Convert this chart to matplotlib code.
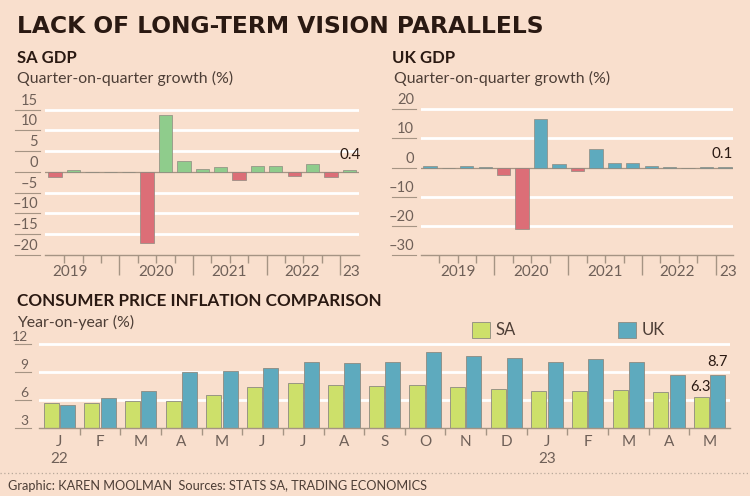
import matplotlib
matplotlib.use('Agg')
import matplotlib.pyplot as plt
from matplotlib.patches import Rectangle
from matplotlib.lines import Line2D
import matplotlib.transforms as mtrans

# ---------------- data ----------------
quarters = ['2019Q1', '2019Q2', '2019Q3', '2019Q4', '2020Q1', '2020Q2', '2020Q3', '2020Q4',
            '2021Q1', '2021Q2', '2021Q3', '2021Q4', '2022Q1', '2022Q2', '2022Q3', '2022Q4', '2023Q1']
sa_gdp = [-1.1, 0.5, -0.05, -0.1, 0.1, -17.0, 13.7, 2.6, 0.6, 1.3, -1.9, 1.4, 1.4, -0.9, 1.8, -1.2, 0.4]
uk_gdp = [0.6, -0.1, 0.6, 0.05, -2.7, -21.0, 16.7, 1.3, -1.2, 6.5, 1.7, 1.6, 0.5, 0.1, -0.1, 0.1, 0.1]
year_labels = ['2019', '2020', '2021', '2022', '23']
gdp_ticks_sa = [15, 10, 5, 0, -5, -10, -15, -20]
gdp_ticks_uk = [20, 10, 0, -10, -20, -30]

months = ['J', 'F', 'M', 'A', 'M', 'J', 'J', 'A', 'S', 'O', 'N', 'D', 'J', 'F', 'M', 'A', 'M']
sa_cpi = [5.7, 5.7, 5.9, 5.9, 6.5, 7.4, 7.8, 7.6, 7.5, 7.6, 7.4, 7.2, 6.9, 7.0, 7.1, 6.8, 6.3]
uk_cpi = [5.5, 6.2, 7.0, 9.0, 9.1, 9.4, 10.1, 9.9, 10.1, 11.1, 10.7, 10.5, 10.1, 10.4, 10.1, 8.7, 8.7]
cpi_ticks = [12, 9, 6, 3]

# ---------------- style ----------------
W, H = 750, 496
BG = '#f9dfcd'
TXT = '#2a1912'
SUB = '#4d3e36'
TICK = '#6f6058'
AXC = '#a59484'
GREEN = '#8fcc8c'
RED = '#dc6e77'
BLUE = '#5eaabe'
LIME = '#cde06a'
EDGE = '#8d8a80'
FONT = 'Lato'

plt.rcParams['font.family'] = [FONT, 'DejaVu Sans']

fig = plt.figure(figsize=(W / 100, H / 100), dpi=100)
fig.patch.set_facecolor(BG)


def px_axes(x0, y0, x1, y1):
    ax = fig.add_axes([x0 / W, 1 - y1 / H, (x1 - x0) / W, (y1 - y0) / H])
    ax.set_facecolor(BG)
    for s in ['top', 'right', 'left']:
        ax.spines[s].set_visible(False)
    ax.spines['bottom'].set_color(AXC)
    ax.spines['bottom'].set_linewidth(1.0)
    ax.set_yticks([])
    return ax


def y_labels(ax, vals, x_right_px, ul_left_px, ax_x0, ax_x1, grid_skip, zero_gray=None,
             fs=10.5, dy=1.5):
    wpx = ax_x1 - ax_x0
    trans = mtrans.blended_transform_factory(ax.transAxes, ax.transData)
    xr = (x_right_px - ax_x0) / wpx
    xl = (ul_left_px - ax_x0) / wpx
    off = mtrans.offset_copy(trans, fig=fig, x=0, y=dy, units='points')
    for v in vals:
        lab = str(v).replace('-', '\u2013')
        ax.text(xr, v, lab, transform=off, ha='right', va='bottom',
                fontsize=fs, color=TICK)
        ax.add_line(Line2D([xl, xr + 0.005], [v, v], transform=trans, clip_on=False,
                           color=AXC, lw=0.8))
        if v == zero_gray:
            ax.axhline(v, color=AXC, lw=0.9, zorder=1)
        elif v != grid_skip:
            ax.axhline(v, color='white', lw=2.0, zorder=0)


def quarter_axis(ax, year_pos):
    n = len(quarters)
    minor = [k + 0.5 for k in range(n - 1) if (k + 1) % 4 != 0]
    major = [k + 0.5 for k in range(n - 1) if (k + 1) % 4 == 0]
    ax.set_xticks(major)
    ax.set_xticks(minor, minor=True)
    ax.tick_params(axis='x', which='major', length=14.5, width=1.0, color=AXC, labelbottom=False)
    ax.tick_params(axis='x', which='minor', length=5.5, width=1.0, color=AXC, labelbottom=False)
    tr = mtrans.blended_transform_factory(ax.transData, ax.transAxes)
    tr = mtrans.offset_copy(tr, fig=fig, x=0, y=-12, units='points')
    for lab, p in zip(year_labels, year_pos):
        ax.text(p, 0, lab, transform=tr, ha='center', va='center', fontsize=11, color=TICK)


# ---------------- titles ----------------
fig.text(17 / W, 1 - 33 / H, 'LACK OF LONG-TERM VISION PARALLELS', fontsize=16.8,
         fontweight='bold', family=['DejaVu Sans'], color=TXT, va='baseline')
fig.text(17 / W, 1 - 63 / H, 'SA GDP', fontsize=12, fontweight='bold', color=TXT, va='baseline')
fig.text(17 / W, 1 - 83 / H, 'Quarter-on-quarter growth (%)', fontsize=11.4, color=SUB, va='baseline')
fig.text(392 / W, 1 - 63 / H, 'UK GDP', fontsize=12, fontweight='bold', color=TXT, va='baseline')
fig.text(394 / W, 1 - 83 / H, 'Quarter-on-quarter growth (%)', fontsize=11.4, color=SUB, va='baseline')
fig.text(17 / W, 1 - 306 / H, 'CONSUMER PRICE INFLATION COMPARISON', fontsize=12.3,
         fontweight='bold', color=TXT, va='baseline')
fig.text(17 / W, 1 - 327 / H, 'Year-on-year (%)', fontsize=11.4, color=SUB, va='baseline')

# ---------------- SA GDP ----------------
x = list(range(len(quarters)))
ax1 = px_axes(45, 107.6, 359, 255)
ax1.set_xlim(-0.55, 16.52)
ax1.set_ylim(-20, 15.5)
ax1.bar(x, sa_gdp, width=0.72, color=[GREEN if v >= 0 else RED for v in sa_gdp],
        edgecolor=EDGE, linewidth=0.5, zorder=2)
y_labels(ax1, gdp_ticks_sa, 38, 15, 45, 359, grid_skip=-20, zero_gray=0)
quarter_axis(ax1, [0.8, 5.5, 9.45, 13.45, 16.1])
ax1.annotate(f'{sa_gdp[-1]:.1f}', xy=(x[-1], sa_gdp[-1]), xytext=(8, 11), textcoords='offset points',
             ha='right', va='center', fontsize=11, color=TXT)

# ---------------- UK GDP ----------------
ax2 = px_axes(420.7, 106.4, 732.7, 255)
ax2.set_xlim(-0.5, 16.42)
ax2.set_ylim(-30, 21)
ax2.bar(x, uk_gdp, width=0.72, color=[BLUE if v >= 0 else RED for v in uk_gdp],
        edgecolor=EDGE, linewidth=0.5, zorder=2)
y_labels(ax2, gdp_ticks_uk, 414, 392, 420.7, 732.7, grid_skip=-30, zero_gray=0)
quarter_axis(ax2, [1.5, 5.5, 9.5, 13.4, 16.2])
ax2.annotate(f'{uk_gdp[-1]:.1f}', xy=(x[-1], uk_gdp[-1]), xytext=(6, 9.5), textcoords='offset points',
             ha='right', va='center', fontsize=11, color=TXT)

# ---------------- CPI ----------------
ax3 = px_axes(39, 340.9, 730, 428)
ax3.set_xlim(-0.5, 16.5)
ax3.set_ylim(3, 12.3)
xm = list(range(len(months)))
bw = 0.37
ax3.bar([i - 0.2 for i in xm], [v - 3 for v in sa_cpi], bottom=3, width=bw, color=LIME,
        edgecolor=EDGE, linewidth=0.6, zorder=2)
ax3.bar([i + 0.2 for i in xm], [v - 3 for v in uk_cpi], bottom=3, width=bw, color=BLUE,
        edgecolor=EDGE, linewidth=0.6, zorder=2)
y_labels(ax3, cpi_ticks, 28, 15, 39, 730, grid_skip=3, fs=10, dy=0.8)
ax3.set_xticks([k + 0.5 for k in range(len(months) - 1)])
ax3.tick_params(axis='x', length=5, width=1.0, color=AXC, labelbottom=False)
trm = mtrans.blended_transform_factory(ax3.transData, ax3.transAxes)
trm1 = mtrans.offset_copy(trm, fig=fig, x=0, y=-10, units='points')
trm2 = mtrans.offset_copy(trm, fig=fig, x=0, y=-22, units='points')
for i, m in enumerate(months):
    ax3.text(i, 0, m, transform=trm1, ha='center', va='center', fontsize=11, color=TICK)
ax3.text(0, 0, '22', transform=trm2, ha='center', va='center', fontsize=11, color=TICK)
ax3.text(12, 0, '23', transform=trm2, ha='center', va='center', fontsize=11, color=TICK)
ax3.annotate(f'{uk_cpi[-1]:.1f}', xy=(xm[-1] + 0.2, uk_cpi[-1]), xytext=(0, 9), textcoords='offset points',
             ha='center', va='center', fontsize=10.5, color=TXT)
ax3.annotate(f'{sa_cpi[-1]:.1f}', xy=(xm[-1] - 0.2, sa_cpi[-1]), xytext=(-1, 7.5), textcoords='offset points',
             ha='center', va='center', fontsize=10.5, color=TXT)

# legend
for (lx, lab, col) in [(472, 'SA', LIME), (618, 'UK', BLUE)]:
    fig.patches.append(Rectangle((lx / W, 1 - 338 / H), 18 / W, 16 / H, transform=fig.transFigure,
                                 facecolor=col, edgecolor=EDGE, linewidth=0.6))
    fig.text((lx + 24) / W, 1 - 330 / H, lab, fontsize=12, color=SUB, va='center')

# ---------------- footer ----------------
fig.add_artist(Line2D([0, 1], [1 - 473 / H, 1 - 473 / H], transform=fig.transFigure,
                      color='#b8a89a', lw=0.9, linestyle=(0, (1, 2))))
fig.text(8 / W, 1 - 490 / H, 'Graphic: KAREN MOOLMAN  Sources: STATS SA, TRADING ECONOMICS',
         fontsize=9.2, color=SUB, va='baseline')

fig.savefig('out.png', dpi=100, facecolor=BG)
